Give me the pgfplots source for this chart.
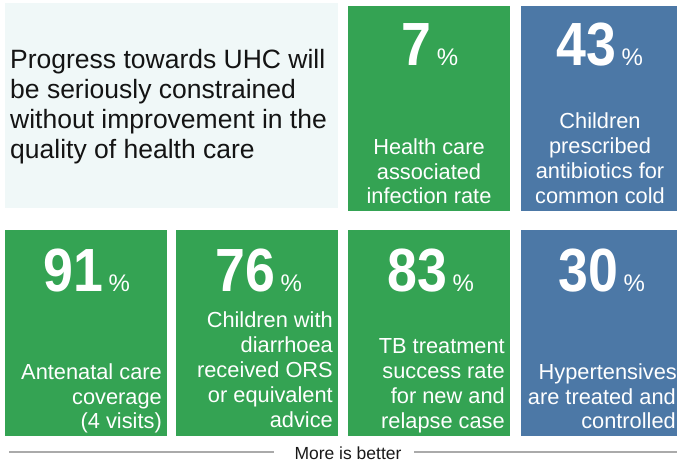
\documentclass[border=0pt]{standalone}
\usepackage{fontspec}
\setmainfont{Liberation Sans}
\usepackage{graphicx}
\usepackage{pgfplots}
\usepackage{pgfplotstable}
\pgfplotsset{compat=1.18}
\definecolor{tgreen}{RGB}{52,163,83}
\definecolor{tblue}{RGB}{76,120,166}
\definecolor{tbox}{RGB}{240,248,248}
\definecolor{tline}{RGB}{170,170,170}
\newcommand\numlabel[1]{\scalebox{0.88}[1]{\fontsize{61}{61}\selectfont\bfseries #1}\hspace{5pt}{\fontsize{24}{24}\selectfont\%}}
\newcommand\bodyfont{\fontsize{21.8}{24}\selectfont}
\newcommand\tiletxt[4]{\node[anchor=#3, inner sep=0pt, font=\bodyfont, text=white] at (axis cs:#1,#2) {#4};}
\newcommand\lefttxt[3]{\node[anchor=base west, inner sep=0pt, font=\fontsize{26.5}{30}\selectfont, text=black!92] at (axis cs:#1,#2) {#3};}
\pgfplotstableread{
x y v
430 65 7
600 65 43
87 291 91
259 291 76
431 291 83
602 291 30
}\numbers
\begin{document}
\begin{tikzpicture}
\begin{axis}[
  at={(0,0)}, anchor=south west,
  scale only axis, width=677pt, height=463pt,
  xmin=0, xmax=677, ymin=0, ymax=463, y dir=reverse,
  hide axis, clip=false
]
% tiles
\addplot[fill=tbox, draw=none] coordinates {(5,3) (338,3) (338,208) (5,208)} -- cycle;
\addplot[fill=tgreen, draw=none] coordinates {(348,6) (510,6) (510,211) (348,211)} -- cycle;
\addplot[fill=tblue, draw=none] coordinates {(521,6) (677,6) (677,211) (521,211)} -- cycle;
\addplot[fill=tgreen, draw=none] coordinates {(5,230) (167,230) (167,436) (5,436)} -- cycle;
\addplot[fill=tgreen, draw=none] coordinates {(176,230) (338,230) (338,436) (176,436)} -- cycle;
\addplot[fill=tgreen, draw=none] coordinates {(348,230) (510,230) (510,436) (348,436)} -- cycle;
\addplot[fill=tblue, draw=none] coordinates {(521,230) (677,230) (677,436) (521,436)} -- cycle;
% bottom rule
\addplot[tline, line width=1.6pt] coordinates {(9,452) (274,452)};
\addplot[tline, line width=1.6pt] coordinates {(414,452) (677,452)};
% numbers
\addplot[only marks, mark=none, point meta=explicit symbolic,
  nodes near coords={\numlabel{\pgfplotspointmeta}},
  nodes near coords style={anchor=base, inner sep=0pt, text=white}]
  table[x=x, y=y, meta=v]{\numbers};
% left text
\lefttxt{10}{68}{Progress towards UHC will}
\lefttxt{10}{98}{be seriously constrained}
\lefttxt{10}{128}{without improvement in the}
\lefttxt{10}{158}{quality of health care}
% tile texts
\tiletxt{429}{154}{base}{Health care}
\tiletxt{429}{179}{base}{associated}
\tiletxt{429}{203}{base}{infection rate}
\tiletxt{600}{128}{base}{Children}
\tiletxt{600}{153}{base}{prescribed}
\tiletxt{600}{178}{base}{antibiotics for}
\tiletxt{600}{203}{base}{common cold}
\tiletxt{162}{379}{base east}{Antenatal care}
\tiletxt{162}{404}{base east}{coverage}
\tiletxt{162}{428}{base east}{(4 visits)}
\tiletxt{333}{327}{base east}{Children with}
\tiletxt{333}{352}{base east}{diarrhoea}
\tiletxt{333}{377}{base east}{received ORS}
\tiletxt{333}{402}{base east}{or equivalent}
\tiletxt{333}{427}{base east}{advice}
\tiletxt{505}{353}{base east}{TB treatment}
\tiletxt{505}{378}{base east}{success rate}
\tiletxt{505}{403}{base east}{for new and}
\tiletxt{505}{428}{base east}{relapse case}
\tiletxt{677}{379}{base east}{Hypertensives}
\tiletxt{676}{404}{base east}{are treated and}
\tiletxt{676}{428}{base east}{controlled}
\node[anchor=base, inner sep=0pt, font=\fontsize{17.5}{20}\selectfont, text=black!90] at (axis cs:348,459) {More is better};
\end{axis}
\pgfresetboundingbox
\path (current axis.south west) rectangle (current axis.north east);
\end{tikzpicture}
\end{document}
